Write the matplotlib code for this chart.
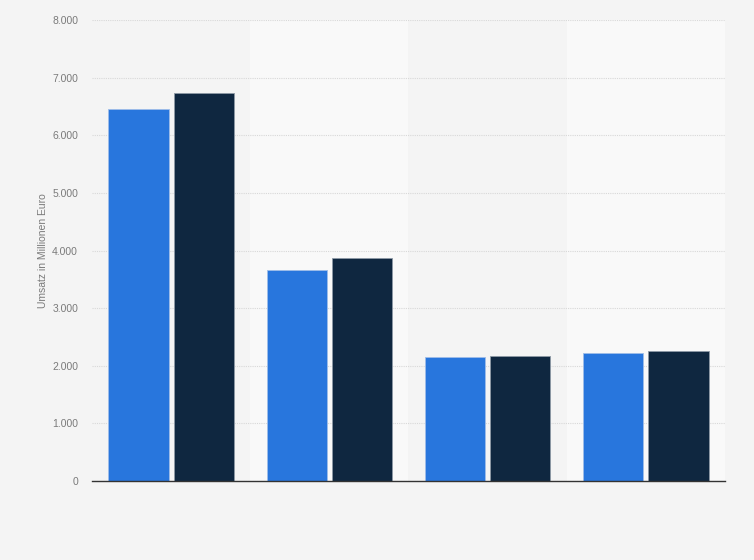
import matplotlib.pyplot as plt
from matplotlib.ticker import FuncFormatter

plt.rcParams['font.family'] = ['Liberation Sans', 'DejaVu Sans']

BLUE = '#2876dd'
NAVY = '#0f2740'

categories = ['A', 'B', 'C', 'D']
series_1 = [6460, 3660, 2150, 2220]
series_2 = [6740, 3870, 2170, 2250]
y_ticks = [0, 1000, 2000, 3000, 4000, 5000, 6000, 7000, 8000]


def format_y(y, pos=None):
    return f'{y:,.0f}'.replace(',', '.')


fig = plt.figure(figsize=(7.54, 5.6), dpi=100, facecolor='#f4f4f4')
ax = fig.add_axes([0.122, 0.141, 0.8395, 0.823])
ax.set_facecolor('#f4f4f4')

x = list(range(len(categories)))
for i in x:
    if i % 2 == 1:
        ax.axvspan(i - 0.5, i + 0.5, color='#f9f9f9', zorder=0, lw=0)

width = 0.38
offset = 0.206
ax.bar([i - offset for i in x], series_1, width, color=BLUE,
       edgecolor='#9fbde8', linewidth=0.6, zorder=3)
ax.bar([i + offset for i in x], series_2, width, color=NAVY,
       edgecolor='#8d99a6', linewidth=0.6, zorder=3)

ax.set_xlim(-0.5, len(categories) - 0.5)
ax.set_ylim(0, 8000)
ax.set_yticks(y_ticks)
ax.yaxis.set_major_formatter(FuncFormatter(format_y))
ax.set_xticks([])
ax.grid(axis='y', color='#d8d8d8', linestyle=(0, (1, 1)), linewidth=0.8, zorder=1)
ax.set_axisbelow(True)

for side in ['top', 'right', 'left']:
    ax.spines[side].set_visible(False)
ax.spines['bottom'].set_color('#333333')
ax.spines['bottom'].set_linewidth(1.0)
ax.spines['bottom'].set_zorder(4)

ax.tick_params(axis='y', length=0, pad=10, labelsize=7.5, labelcolor='#7a7a7a')
ax.set_ylabel('Umsatz in Millionen Euro', fontsize=7.5, color='#7a7a7a', labelpad=3)

plt.savefig('out.png', dpi=100, facecolor=fig.get_facecolor())
